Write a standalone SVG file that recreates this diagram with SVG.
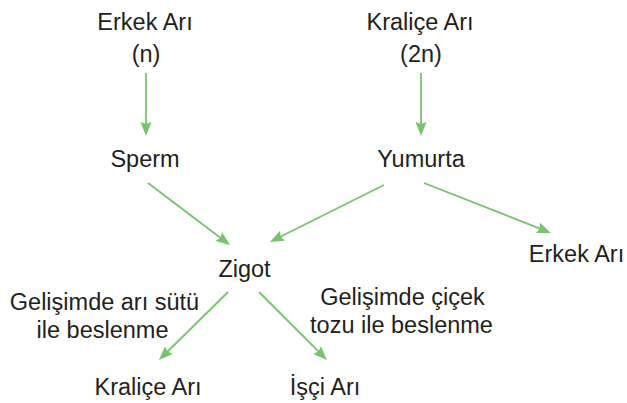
<svg xmlns="http://www.w3.org/2000/svg" width="627" height="403" viewBox="0 0 627 403">
<style>
.t{font-family:"Liberation Sans",Arial,sans-serif;font-size:23.5px;fill:#231f20;text-anchor:middle}
.c{stroke:#78c46e;stroke-width:1.8;fill:none}
</style>
<defs>
<marker id="ah" markerUnits="userSpaceOnUse" markerWidth="16" markerHeight="14" viewBox="0 0 16 14" refX="4" refY="7" orient="auto">
<path d="M0,1.5 L14,7 L0,12.5 L2,7 Z" fill="#78c46e"/>
</marker>
</defs>
<rect width="627" height="403" fill="#ffffff"/>
<g id="connectors">
<line class="c" x1="146" y1="73" x2="146" y2="126" marker-end="url(#ah)"/>
<line class="c" x1="421" y1="73" x2="421" y2="126" marker-end="url(#ah)"/>
<line class="c" x1="148" y1="183" x2="222" y2="239" marker-end="url(#ah)"/>
<line class="c" x1="384" y1="185" x2="278.9" y2="237.5" marker-end="url(#ah)"/>
<line class="c" x1="424" y1="183" x2="541.7" y2="229.3" marker-end="url(#ah)"/>
<line class="c" x1="228" y1="292" x2="166.1" y2="353" marker-end="url(#ah)"/>
<line class="c" x1="259" y1="292" x2="319.9" y2="352.9" marker-end="url(#ah)"/>
</g>
<g id="erkek-ari-top"><text class="t" x="145" y="29.5">Erkek Arı</text><text class="t" x="146" y="62">(n)</text></g>
<g id="kralice-ari-top"><text class="t" x="420" y="29.5">Kraliçe Arı</text><text class="t" x="421" y="62">(2n)</text></g>
<g id="sperm"><text class="t" x="145" y="167">Sperm</text></g>
<g id="yumurta"><text class="t" x="421" y="167">Yumurta</text></g>
<g id="zigot"><text class="t" x="244.5" y="277">Zigot</text></g>
<g id="erkek-ari-right"><text class="t" x="576.5" y="262">Erkek Arı</text></g>
<g id="label-ari-sutu"><text class="t" x="104.5" y="310">Gelişimde arı sütü</text><text class="t" x="102.5" y="338">ile beslenme</text></g>
<g id="label-cicek-tozu"><text class="t" x="402.5" y="305">Gelişimde çiçek</text><text class="t" x="401.5" y="333">tozu ile beslenme</text></g>
<g id="kralice-ari-bottom"><text class="t" x="148" y="395">Kraliçe Arı</text></g>
<g id="isci-ari"><text class="t" x="325" y="395">İşçi Arı</text></g>
</svg>
